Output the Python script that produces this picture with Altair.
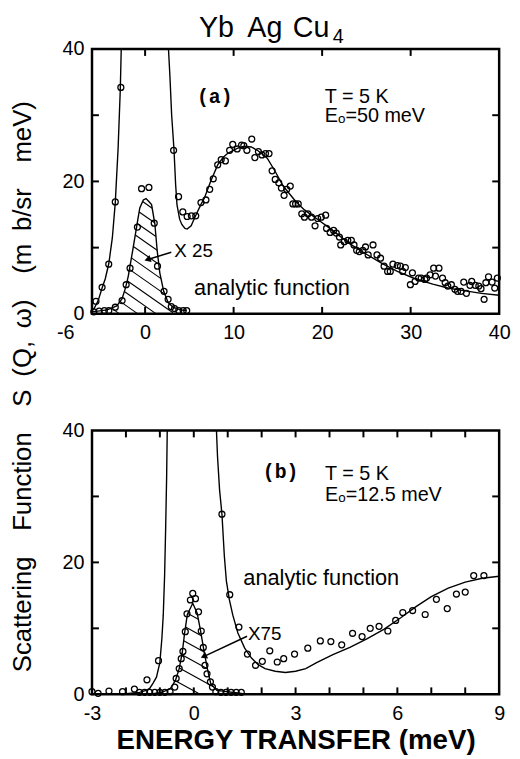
import altair as alt
import numpy as np
import pandas as pd

# ---------------- Panel (a): T = 5 K, E0 = 50 meV ----------------
# (energy transfer in meV, S in mb/sr meV)
a_points = [(-5.55, 1.9), (-4.86, 4.0), (-4.11, 7.5), (-3.37, 16.9), (-2.74, 34.2),
            (3.22, 24.7), (3.78, 17.7), (4.26, 15.4), (4.75, 14.7), (5.23, 14.8), (5.72, 14.8),
            (6.31, 16.8), (6.87, 17.2), (7.3, 18.8), (7.7, 20.4), (8.2, 22.5), (8.6, 23.3),
            (9.07, 23.1), (9.55, 24.7), (9.9, 25.6), (10.4, 24.9), (10.9, 25.5), (11.15, 25.4),
            (11.5, 24.7), (12.05, 26.4), (12.4, 23.6), (12.8, 24.5), (13.2, 24.0), (13.6, 24.2),
            (14.0, 24.2), (14.35, 21.6), (14.7, 20.3), (15.1, 19.8), (15.4, 19.0), (15.7, 17.9),
            (16.0, 18.8), (16.4, 19.3), (16.7, 16.6), (17.0, 16.6), (17.3, 16.6), (17.7, 15.1),
            (18.0, 14.6), (18.4, 15.1), (18.8, 14.6), (19.2, 13.3), (19.5, 14.4), (19.9, 14.6),
            (20.4, 14.9), (20.5, 12.9), (20.9, 12.3), (21.3, 12.6), (21.6, 12.2), (21.95, 11.6),
            (22.1, 10.4), (22.5, 10.9), (22.9, 11.1), (23.3, 11.1), (23.6, 10.4), (23.9, 9.6),
            (24.2, 9.4), (24.6, 9.6), (24.9, 10.1), (25.2, 8.9), (25.75, 10.4), (26.2, 8.9),
            (26.6, 8.4), (27.0, 7.2), (27.4, 6.4), (27.7, 6.4), (28.0, 7.5), (28.5, 7.3),
            (28.85, 7.2), (29.1, 6.4), (29.4, 7.0), (29.97, 4.4), (30.2, 6.2), (30.5, 4.9),
            (30.9, 5.4), (31.2, 5.4), (31.6, 5.2), (31.8, 5.4), (32.2, 5.9), (32.6, 6.9),
            (32.8, 5.7), (33.2, 6.9), (33.6, 5.4), (33.9, 4.7), (34.2, 4.2), (34.6, 4.4),
            (35.0, 3.7), (35.3, 3.4), (35.7, 3.4), (36.0, 4.8), (36.3, 3.1), (36.7, 4.3),
            (36.9, 4.9), (37.3, 4.3), (37.7, 4.2), (37.95, 3.8), (38.3, 2.2), (38.5, 4.7),
            (38.8, 5.6), (39.2, 4.8), (39.5, 3.9), (39.8, 5.4)]
a_curve = [(-6.0, 0.5), (-5.8, 0.7), (-5.3, 2.0), (-4.86, 3.9), (-4.5, 5.3), (-4.1, 7.6),
           (-3.7, 11.5), (-3.37, 16.8), (-3.05, 25.0), (-2.8, 34.0), (-2.68, 41.0),
           (2.6, 41.0), (2.8, 36.0), (3.0, 30.0), (3.26, 24.9), (3.45, 19.5), (3.6, 16.5),
           (3.9, 14.3), (4.15, 13.5), (4.5, 12.9), (4.75, 12.8), (5.2, 13.3), (5.6, 14.5),
           (5.94, 15.5), (6.3, 16.5), (6.7, 17.5), (7.4, 20.0), (8.2, 22.5), (8.8, 23.6),
           (9.3, 24.2), (10.4, 25.0), (11.2, 25.3), (12.0, 25.2), (12.8, 24.6), (13.8, 23.5),
           (14.7, 21.5), (15.6, 19.3), (17.0, 17.0), (18.0, 15.7), (19.35, 14.4), (21.0, 12.8),
           (23.1, 10.6), (25.0, 9.0), (26.8, 7.6), (28.5, 6.4), (30.5, 5.3), (32.5, 4.5),
           (34.2, 3.9), (36.0, 3.5), (38.0, 3.1), (40.0, 2.8)]
a_peak_points = [(-5.8, 0.3), (-5.2, 0.4), (-4.6, 0.5), (-4.1, 0.5), (-3.37, 1.0), (-2.6, 2.0),
                 (-2.14, 4.4), (-1.7, 6.9), (-0.87, 13.1), (-0.4, 18.9), (0.43, 19.1),
                 (1.03, 13.7), (1.4, 7.2), (2.14, 3.4), (2.6, 2.2), (2.96, 1.1), (3.33, 0.8),
                 (3.8, 0.5), (4.3, 0.5), (4.7, 0.5)]
a_peak_curve = [(-6.0, 0.3), (-4.3, 0.6), (-3.2, 1.2), (-2.6, 2.3), (-2.2, 4.0), (-1.9, 5.7),
                (-1.4, 9.6), (-0.95, 13.2), (-0.6, 16.0), (-0.2, 17.2), (0.1, 17.4), (0.4, 17.0),
                (0.73, 16.5), (1.1, 13.6), (1.36, 9.6), (1.66, 6.2), (2.1, 3.4), (2.6, 1.7),
                (3.15, 1.0), (4.0, 0.6), (4.7, 0.5)]

# ---------------- Panel (b): T = 5 K, E0 = 12.5 meV ----------------
b_points = [(-3.0, 0.4), (-2.82, 0.15), (-2.5, 0.5), (-2.1, 0.4), (-1.75, 0.8), (-1.38, 2.2),
            (-1.04, 5.1), (0.83, 27.3), (1.06, 15.1), (1.33, 10.2), (1.58, 6.1), (1.82, 4.4),
            (2.02, 5.0), (2.24, 6.6), (2.46, 4.9), (2.65, 5.4), (2.97, 6.1), (3.36, 7.0),
            (3.73, 8.1), (4.04, 8.0), (4.36, 7.5), (4.68, 9.25), (4.96, 8.75), (5.2, 10.0),
            (5.46, 10.3), (5.72, 9.6), (5.95, 11.2), (6.16, 12.4), (6.45, 12.7), (6.82, 12.1),
            (7.15, 14.4), (7.47, 13.0), (7.74, 15.2), (8.0, 15.5), (8.25, 18.0), (8.55, 18.0)]
b_curve = [(-3.0, 0.05), (-2.0, 0.1), (-1.6, 0.3), (-1.4, 0.6), (-1.3, 0.9), (-1.2, 1.7),
           (-1.1, 2.6), (-1.0, 4.8), (-0.94, 8.5), (-0.9, 12.0), (-0.86, 18.0), (-0.83, 25.0),
           (-0.8, 33.0), (-0.78, 41.0), (0.66, 41.0), (0.7, 36.0), (0.76, 31.0), (0.83, 27.3),
           (0.9, 21.0), (0.96, 17.2), (1.05, 14.3), (1.15, 12.0), (1.3, 9.3), (1.5, 7.0),
           (1.7, 5.5), (1.9, 4.5), (2.1, 3.9), (2.4, 3.5), (2.7, 3.3), (3.0, 3.5), (3.3, 3.9),
           (3.62, 4.8), (4.1, 6.0), (4.6, 7.1), (5.1, 8.4), (5.6, 9.85), (6.1, 11.6),
           (6.55, 13.3), (7.0, 14.8), (7.5, 16.1), (8.0, 17.0), (8.5, 17.6), (9.0, 17.9)]
b_peak_points = [(-0.03, 15.3), (-0.1, 14.3), (0.05, 14.5), (-0.2, 12.2), (0.14, 12.5),
                 (-0.25, 9.5), (0.22, 9.6), (-0.32, 6.5), (0.28, 7.1), (-0.37, 5.4), (0.33, 4.4),
                 (-0.43, 3.9), (0.39, 3.1), (-0.52, 2.4), (0.49, 1.9), (-0.56, 1.1), (0.55, 1.1),
                 (-1.6, 0.3), (-1.45, 0.3), (-1.3, 0.3), (-1.15, 0.3), (-1.0, 0.3), (-0.85, 0.3),
                 (-0.7, 0.4), (0.65, 0.4), (0.8, 0.3), (0.95, 0.3), (1.1, 0.3), (1.25, 0.3),
                 (1.4, 0.3)]
b_peak_curve = [(-1.8, 0.05), (-1.2, 0.1), (-0.95, 0.3), (-0.7, 0.8), (-0.54, 2.1), (-0.43, 3.9),
                (-0.34, 6.3), (-0.27, 9.3), (-0.19, 12.1), (-0.03, 13.8), (0.1, 12.3),
                (0.2, 9.6), (0.3, 6.6), (0.4, 3.9), (0.5, 1.6), (0.68, 0.6), (0.97, 0.4),
                (1.3, 0.2), (1.5, 0.05)]

# ---------------- axes ----------------
a_x_labels = [-6, 0, 10, 20, 30, 40]
a_x_ticks = [0, 10, 20, 30]
b_x_labels = [-3, 0, 3, 6, 9]
b_x_ticks = [-2, -1, 0, 1, 2, 3, 4, 5, 6, 7, 8]
y_labels = [0, 20, 40]
y_ticks = [10, 20, 30]

FONT = "Liberation Sans"
W, H_A, H_B = 412, 268, 267
TICK = 7


def frame(pairs):
    return pd.DataFrame(pairs, columns=["E", "S"])


def hatch(pairs, px_e, px_s, spacing_px, slope_px, min_s=1.0):
    E = np.array([p[0] for p in pairs])
    S = np.array([p[1] for p in pairs])
    Ef = np.linspace(E.min(), E.max(), 4000)
    Sf = np.interp(Ef, E, S)
    m = slope_px * px_e / px_s
    step = spacing_px / px_s
    rows = []
    for b in np.arange((m * Ef).min() + step * 0.5, (Sf + m * Ef).max(), step):
        Sl = b - m * Ef
        ok = (Sl >= 0) & (Sl <= Sf) & (Sf >= min_s)
        best, start = None, None
        for i, v in enumerate(ok):
            if v and start is None:
                start = i
            if start is not None and (not v or i == len(ok) - 1):
                end = i if v else i - 1
                if best is None or end - start > best[1] - best[0]:
                    best = (start, end)
                start = None
        if best and (Ef[best[1]] - Ef[best[0]]) * px_e > 2:
            rows.append(dict(E=Ef[best[0]], S=Sl[best[0]], E2=Ef[best[1]], S2=Sl[best[1]]))
    return pd.DataFrame(rows)


def panel(xdom, points, curve, peak_pts, peak_curve, hatch_df, x_labels, x_ticks,
          texts, arrow, height, xtitle=None, label_offset=None):
    xs = alt.Scale(domain=xdom, nice=False, zero=False)
    ys = alt.Scale(domain=[0, 40], nice=False, zero=False)

    def X(f="E:Q", a=None):
        return alt.X(f, scale=xs, axis=a) if a is not None else alt.X(f, scale=xs, axis=None)

    def Y(f="S:Q", a=None):
        return alt.Y(f, scale=ys, axis=a) if a is not None else alt.Y(f, scale=ys, axis=None)

    xkw = dict(orient="bottom", values=x_labels, ticks=False, domain=False, grid=False,
               labelFontSize=20, labelColor="black", labelFont=FONT, labelPadding=9,
               labelFlush=False, labelExpr="'' + datum.value", title=xtitle)
    if label_offset is not None:
        xkw["labelOffset"] = label_offset
    if xtitle:
        xkw.update(titleFontSize=28, titleFont=FONT, titleFontWeight="bold", titleColor="black",
                   titlePadding=4)
    x_axis = alt.Axis(**xkw)
    y_axis = alt.Axis(orient="left", values=y_labels, ticks=False, domain=False, grid=False,
                      labelFontSize=20, labelColor="black", labelFont=FONT, labelPadding=8,
                      title=None)

    layers = []
    layers.append(alt.Chart(frame(points)).mark_point(
        filled=False, color="black", size=36, strokeWidth=1.3, opacity=1).encode(
        x=X(a=x_axis), y=Y(a=y_axis)))
    layers.append(alt.Chart(frame(curve)).mark_line(
        color="black", strokeWidth=1.4, clip=True).encode(x=X(), y=Y(), order="E:Q"))
    layers.append(alt.Chart(frame(peak_curve)).mark_line(
        color="black", strokeWidth=1.4).encode(x=X(), y=Y(), order="E:Q"))
    layers.append(alt.Chart(hatch_df).mark_rule(color="black", strokeWidth=1.1).encode(
        x=X(), y=Y(), x2="E2:Q", y2="S2:Q"))
    layers.append(alt.Chart(frame(peak_pts)).mark_point(
        filled=False, color="black", size=36, strokeWidth=1.3, opacity=1).encode(x=X(), y=Y()))
    # inward tick marks on all four sides of the frame
    xt = pd.DataFrame({"t": x_ticks})
    yt = pd.DataFrame({"t": y_ticks})
    layers.append(alt.Chart(xt).mark_rule(color="black", strokeWidth=2).encode(
        x=X("t:Q"), y=alt.value(0), y2=alt.value(TICK)))
    layers.append(alt.Chart(xt).mark_rule(color="black", strokeWidth=2).encode(
        x=X("t:Q"), y=alt.value(height), y2=alt.value(height - TICK)))
    layers.append(alt.Chart(yt).mark_rule(color="black", strokeWidth=2).encode(
        y=Y("t:Q"), x=alt.value(0), x2=alt.value(TICK)))
    layers.append(alt.Chart(yt).mark_rule(color="black", strokeWidth=2).encode(
        y=Y("t:Q"), x=alt.value(W), x2=alt.value(W - TICK)))
    # arrow
    (e0, s0, e1, s1, ang) = arrow
    layers.append(alt.Chart(pd.DataFrame([dict(E=e0, S=s0, E2=e1, S2=s1)])).mark_rule(
        color="black", strokeWidth=1.5).encode(x=X(), y=Y(), x2="E2:Q", y2="S2:Q"))
    layers.append(alt.Chart(pd.DataFrame([dict(E=e1, S=s1)])).mark_point(
        shape="triangle", filled=True, color="black", size=55, angle=ang, opacity=1).encode(
        x=X(), y=Y()))
    # texts
    for rows, style in texts:
        layers.append(alt.Chart(pd.DataFrame(rows)).mark_text(color="black", **style).encode(
            x=X(), y=Y(), text="t:N"))
    return alt.layer(*layers).resolve_axis(x="independent", y="independent").properties(
        width=W, height=height)


# hatch lines (decoration derived from the x25 / x75 peak curves)
a_hatch = hatch(a_peak_curve, W / 46.0, H_A / 40.0, 13, 0.7)
b_hatch = hatch(b_peak_curve, W / 12.0, H_B / 40.0, 15, 0.55)

EM, EN = "\u2003", "\u2002"
y_title = ("Scattering" + EM + "Function" + EM + "S" + EN + "(Q," + EN + "\u03c9)" + EM
           + "(m" + EN + "b/sr" + EM + "meV)")

a_texts = [
    ([dict(E=6.08, S=41.87, t="Yb"), dict(E=11.55, S=41.87, t="Ag"), dict(E=16.68, S=41.87, t="Cu")],
     dict(font=FONT, fontSize=29, align="left", baseline="alphabetic")),
    ([dict(E=21.2, S=40.9, t="4")], dict(font=FONT, fontSize=20, align="left", baseline="alphabetic")),
    ([dict(E=7.87, S=32.8, t="(a)")],
     dict(font="Liberation Mono", fontSize=20, fontWeight="bold", align="center", baseline="middle")),
    ([dict(E=20.3, S=31.9, t="T = 5 K"), dict(E=20.3, S=28.9, t="E\u2092=50 meV")],
     dict(font=FONT, fontSize=20, align="left", baseline="alphabetic")),
    ([dict(E=3.3, S=9.5, t="X 25")], dict(font=FONT, fontSize=19, align="left", baseline="middle")),
    ([dict(E=5.53, S=2.9, t="analytic function")],
     dict(font=FONT, fontSize=22, align="left", baseline="alphabetic")),
    ([dict(E=-13.8, S=-11.0, t=y_title)],
     dict(font=FONT, fontSize=26, align="center", baseline="middle", angle=270)),
]
b_texts = [
    ([dict(E=2.56, S=33.7, t="(b)")],
     dict(font="Liberation Mono", fontSize=20, fontWeight="bold", align="center", baseline="middle")),
    ([dict(E=3.87, S=32.5, t="T = 5 K"), dict(E=3.87, S=29.25, t="E\u2092=12.5 meV")],
     dict(font=FONT, fontSize=20, align="left", baseline="alphabetic")),
    ([dict(E=1.46, S=16.6, t="analytic function")],
     dict(font=FONT, fontSize=22, align="left", baseline="alphabetic")),
    ([dict(E=1.6, S=9.1, t="X75")], dict(font=FONT, fontSize=19, align="left", baseline="middle")),
]

pa = panel([-6, 40], a_points, a_curve, a_peak_points, a_peak_curve, a_hatch, a_x_labels,
           a_x_ticks, a_texts, (2.96, 9.3, 0.39, 8.25, 253), H_A,
           label_offset=alt.condition("datum.value == -6", alt.value(-27), alt.value(0)))
pb = panel([-3, 9], b_points, b_curve, b_peak_points, b_peak_curve, b_hatch, b_x_labels,
           b_x_ticks, b_texts, (1.57, 8.8, 0.32, 5.8, 245), H_B,
           xtitle="ENERGY TRANSFER (meV)")

chart = alt.vconcat(pa, pb, spacing=118, bounds="flush").properties(
    padding=0, background="white").configure_view(stroke="black", strokeWidth=2.5)

chart.save("out.html", embed_options={"renderer": "svg", "actions": False})
